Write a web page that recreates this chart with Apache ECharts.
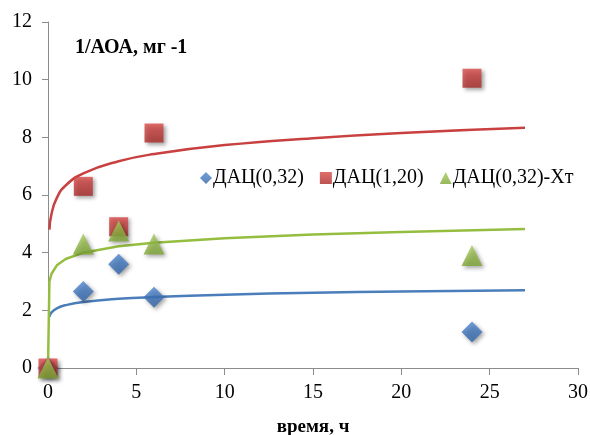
<!DOCTYPE html>
<html><head><meta charset="utf-8">
<script src="https://cdn.jsdelivr.net/npm/echarts@6/dist/echarts.min.js"></script>
<style>html,body{margin:0;padding:0;background:#fff}#c{width:590px;height:435px}</style>
</head><body><div id="c"></div>
<script>
var hours = [0, 2, 4, 6, 24];
var dac032 = [0, 2.65, 3.6, 2.45, 1.25];
var dac120 = [0, 6.3, 4.9, 8.15, 10.05];
var dac032xt = [0, 4.3, 4.75, 4.3, 3.9];
// trend lines
var trendX = [0.08, 0.2, 0.5, 1, 2, 4, 6, 10, 15, 20, 27];
var trendBlue = [1.78, 1.93, 2.07, 2.18, 2.29, 2.40, 2.46, 2.54, 2.61, 2.65, 2.70];
var trendRed = [4.8, 5.35, 5.9, 6.33, 6.75, 7.17, 7.42, 7.73, 7.97, 8.15, 8.33];
var trendGreen = [3.0, 3.27, 3.56, 3.78, 4.0, 4.22, 4.34, 4.5, 4.63, 4.72, 4.82];
var names = ['ДАЦ(0,32)', 'ДАЦ(1,20)', 'ДАЦ(0,32)-Хт'];

function pairs(xs, ys) { return xs.map(function (x, i) { return [x, ys[i]]; }); }
var greenLine = [[0, 0]].concat(pairs(trendX, trendGreen));

var serif = '"Liberation Serif", "DejaVu Serif", serif';
var axisCol = '#8c8c8c';
var shadow = { shadowBlur: 4, shadowColor: 'rgba(0,0,0,0.45)', shadowOffsetX: 2, shadowOffsetY: 2 };
function mk(c1, c2) {
  return Object.assign({ color: new echarts.graphic.LinearGradient(0, 0, 0, 1, [{ offset: 0, color: c1 }, { offset: 1, color: c2 }]) }, shadow);
}
var chart = echarts.init(document.getElementById('c'));
chart.setOption({
  animation: false,
  backgroundColor: '#fff',
  grid: { left: 48, right: 12, top: 22, bottom: 67, outerBoundsMode: 'none', containLabel: false },
  title: { text: '1/АОА, мг -1', left: 70, top: 33, textStyle: { fontFamily: serif, fontWeight: 'bold', fontSize: 20, color: '#000' } },
  legend: {
    data: [{ name: names[0], icon: 'diamond' }, { name: names[1], icon: 'rect' }, { name: names[2], icon: 'triangle' }],
    left: 195, top: 163, itemWidth: 12, itemHeight: 12, itemGap: 16,
    textStyle: { fontFamily: serif, fontSize: 20, color: '#000', padding: [0, 0, 0, -4] }
  },
  xAxis: {
    type: 'value', min: 0, max: 30, interval: 5,
    name: 'время, ч', nameLocation: 'middle', nameGap: 50,
    nameTextStyle: { fontFamily: serif, fontWeight: 'bold', fontSize: 19, color: '#000' },
    axisLine: { show: true, lineStyle: { color: axisCol } },
    axisTick: { show: true, length: 7, lineStyle: { color: axisCol } },
    axisLabel: { fontFamily: serif, fontSize: 20, color: '#000', margin: 15 },
    splitLine: { show: false }
  },
  yAxis: {
    type: 'value', min: 0, max: 12, interval: 2,
    axisLine: { show: true, lineStyle: { color: axisCol } },
    axisTick: { show: true, length: 6, lineStyle: { color: axisCol } },
    axisLabel: { fontFamily: serif, fontSize: 20, color: '#000', margin: 16 },
    splitLine: { show: false }
  },
  series: [
    { name: 'tb', type: 'line', data: pairs(trendX, trendBlue), showSymbol: false, smooth: true, lineStyle: { color: '#4a7ebb', width: 2.5 }, z: 2 },
    { name: 'tr', type: 'line', data: pairs(trendX, trendRed), showSymbol: false, smooth: true, lineStyle: { color: '#c94040', width: 2.5 }, z: 2 },
    { name: 'tg', type: 'line', data: greenLine, showSymbol: false, smooth: false, lineStyle: { color: '#95bd3f', width: 2.5 }, z: 2 },
    { name: names[0], type: 'scatter', symbol: 'diamond', symbolSize: 21, data: pairs(hours, dac032), itemStyle: mk('#4f86cf', '#2f64a8'), z: 3 },
    { name: names[1], type: 'scatter', symbol: 'rect', symbolSize: 19, data: pairs(hours, dac120), itemStyle: mk('#d84a47', '#a82a28'), z: 3 },
    { name: names[2], type: 'scatter', symbol: 'triangle', symbolSize: 21, data: pairs(hours, dac032xt), itemStyle: mk('#a5c95a', '#7ea635'), z: 4 }
  ]
});
</script>
</body></html>
